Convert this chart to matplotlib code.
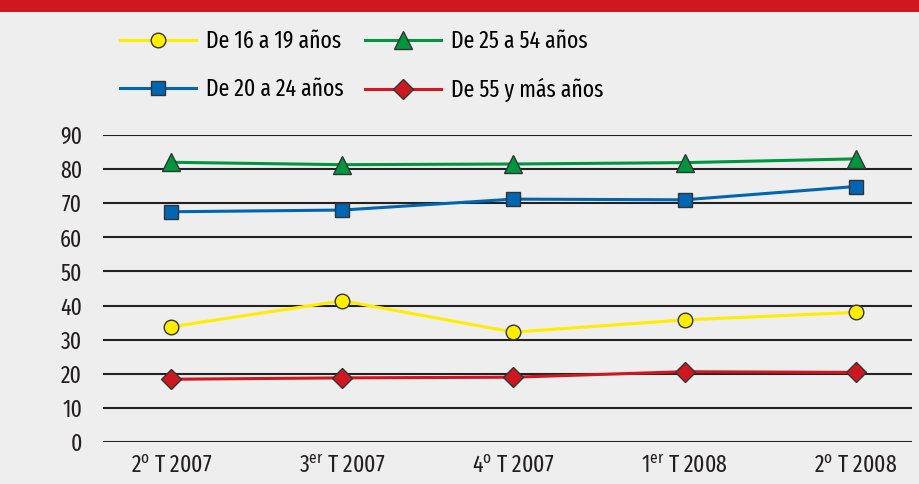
import numpy as np
import matplotlib
matplotlib.use("Agg")
import matplotlib.pyplot as plt
from matplotlib.patches import Rectangle

# quarters on the x axis
periods = ["2$^{\\rm o}$ T 2007", "3$^{\\rm er}$ T 2007", "4$^{\\rm o}$ T 2007",
           "1$^{\\rm er}$ T 2008", "2$^{\\rm o}$ T 2008"]

# values
age_16_19 = [33.8, 41.4, 32.2, 35.8, 38.0]
age_20_24 = [67.5, 68.0, 71.2, 71.0, 74.9]
age_25_54 = [82.0, 81.3, 81.5, 81.9, 83.0]
age_55_up = [18.4, 18.8, 19.0, 20.6, 20.4]

labels = ["De 16 a 19 años", "De 20 a 24 años", "De 25 a 54 años", "De 55 y más años"]
yticks = [0, 10, 20, 30, 40, 50, 60, 70, 80, 90]

bg = "#eeeeee"
yellow = "#ffed00"
blue = "#0066b3"
green = "#009640"
red = "#ce171f"

font = "Fira Sans Extra Condensed"
plt.rcParams["font.family"] = [font, "DejaVu Sans"]
plt.rcParams["mathtext.fontset"] = "custom"
plt.rcParams["mathtext.rm"] = font

fig = plt.figure(figsize=(9.19, 4.84), dpi=100, facecolor=bg)
# red header band
fig.patches.append(Rectangle((0, 1 - 12 / 484), 1, 12 / 484, transform=fig.transFigure,
                             facecolor=red, edgecolor="none"))

ax = fig.add_axes([103 / 919, 1 - 442 / 484, (912 - 103) / 919, (442 - 135) / 484])
ax.set_facecolor(bg)

x = np.arange(len(periods))
lw = 2.2
ms = 10.5
series = [
    (age_16_19, yellow, "o", labels[0]),
    (age_20_24, blue, "s", labels[1]),
    (age_25_54, green, "^", labels[2]),
    (age_55_up, red, "D", labels[3]),
]
handles = []
for vals, col, mk, lab in series:
    size = ms + 2 if mk == "^" else ms
    h, = ax.plot(x, vals, color=col, lw=lw, marker=mk, markersize=size,
                 markerfacecolor=col, markeredgecolor="#333333", markeredgewidth=1.0,
                 label=lab, zorder=3)
    handles.append(h)

ax.set_xlim(-0.4, 4.33)
ax.set_ylim(0, 90)
ax.set_yticks(yticks)
ax.set_xticks(x)
ax.set_xticklabels(periods)
ax.yaxis.grid(True, color="#222222", lw=1.5)
ax.set_axisbelow(True)
for s in ax.spines.values():
    s.set_visible(False)
ax.tick_params(axis="both", length=0, labelsize=17, colors="#231f20")
ax.tick_params(axis="y", pad=15)
ax.tick_params(axis="x", pad=9)

fig.legend(handles=handles, labels=labels, ncol=2, loc="upper left",
           bbox_to_anchor=(120 / 919, 1 - 30 / 484), frameon=False, fontsize=17,
           handlelength=3.2, handletextpad=0.45, labelspacing=1.05, columnspacing=0.9,
           borderpad=0, borderaxespad=0)

fig.savefig("out.png", dpi=100, facecolor=bg)
